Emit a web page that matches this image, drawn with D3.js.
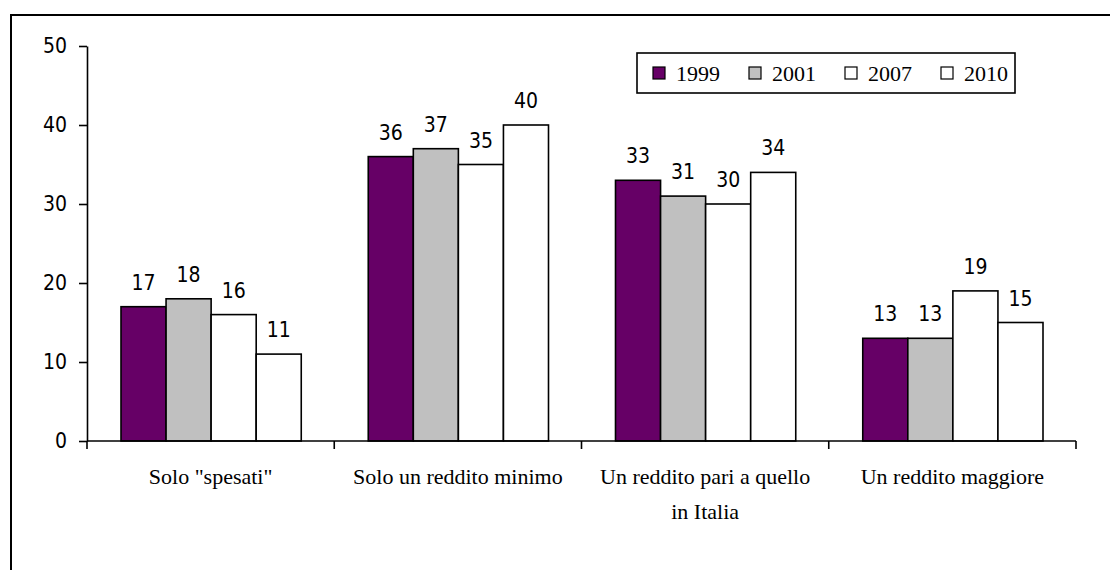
<!DOCTYPE html>
<html>
<head>
<meta charset="utf-8">
<script src="https://cdn.jsdelivr.net/npm/d3@7"></script>
<style>
  body { margin: 0; background: #fff; }
  svg { display: block; }
  .tick-lbl { font-family: Tahoma, "DejaVu Sans Condensed", "DejaVu Sans", sans-serif; font-size: 21px; }
  .cat-lbl { font-family: "Liberation Serif", "Times New Roman", serif; font-size: 22px; }
</style>
</head>
<body>
<svg width="1110" height="570"></svg>
<script>
const categories = ['Solo "spesati"', 'Solo un reddito minimo', 'Un reddito pari a quello|in Italia', 'Un reddito maggiore'];
const years = ['1999', '2001', '2007', '2010'];
const v1999 = [17, 36, 33, 13];
const v2001 = [18, 37, 31, 13];
const v2007 = [16, 35, 30, 19];
const v2010 = [11, 40, 34, 15];
const yTicks = [0, 10, 20, 30, 40, 50];
const colors = ['#660066', '#c0c0c0', '#ffffff', '#ffffff'];

const series = [v1999, v2001, v2007, v2010];
const svg = d3.select('svg');

// outer frame (right and bottom edges run off the picture)
svg.append('rect')
  .attr('x', 11).attr('y', 15)
  .attr('width', 1120).attr('height', 580)
  .attr('fill', 'none').attr('stroke', '#000').attr('stroke-width', 2);

const x0 = d3.scaleBand().domain(categories).range([87, 1076]).paddingInner(0).paddingOuter(0);
const x1 = d3.scaleBand().domain(years).range([34, x0.bandwidth() - 33]);
const y = d3.scaleLinear().domain([0, 50]).range([441, 46]);

// bars
const g = svg.append('g');
categories.forEach((c, ci) => {
  years.forEach((yr, si) => {
    const v = series[si][ci];
    g.append('rect')
      .attr('x', x0(c) + x1(yr))
      .attr('y', y(v))
      .attr('width', x1.bandwidth())
      .attr('height', y(0) - y(v))
      .attr('fill', colors[si])
      .attr('stroke', '#000').attr('stroke-width', 1.6);
    g.append('text')
      .attr('class', 'tick-lbl')
      .attr('x', x0(c) + x1(yr) + x1.bandwidth() / 2)
      .attr('y', y(v) - 17)
      .attr('text-anchor', 'middle')
      .text(v);
  });
});

// y axis
const yAxis = svg.append('g')
  .attr('transform', 'translate(87,0)')
  .call(d3.axisLeft(y).tickValues(yTicks).tickSize(8).tickPadding(12).tickSizeOuter(0));
yAxis.select('.domain').attr('stroke-width', 1.6);
yAxis.selectAll('.tick line').attr('stroke-width', 1.6);
yAxis.selectAll('.tick text').attr('class', 'tick-lbl').attr('font-size', null).attr('font-family', null);
yAxis.attr('font-size', null).attr('font-family', null);

// x axis with ticks between categories
const xg = svg.append('g');
xg.append('line')
  .attr('x1', 87).attr('x2', 1076)
  .attr('y1', y(0)).attr('y2', y(0))
  .attr('stroke', '#000').attr('stroke-width', 1.6);
const bounds = categories.map(c => x0(c)).concat([x0.range()[1]]);
xg.selectAll('line.sep').data(bounds).enter().append('line')
  .attr('class', 'sep')
  .attr('x1', d => d).attr('x2', d => d)
  .attr('y1', y(0)).attr('y2', y(0) + 8)
  .attr('stroke', '#000').attr('stroke-width', 1.6);

categories.forEach(c => {
  const lines = c.split('|');
  const t = xg.append('text')
    .attr('class', 'cat-lbl')
    .attr('text-anchor', 'middle')
    .attr('x', x0(c) + x0.bandwidth() / 2)
    .attr('y', 484);
  lines.forEach((l, i) => {
    t.append('tspan')
      .attr('x', x0(c) + x0.bandwidth() / 2)
      .attr('dy', i === 0 ? 0 : 35)
      .text(l);
  });
});

// legend
const leg = svg.append('g');
leg.append('rect')
  .attr('x', 637).attr('y', 53)
  .attr('width', 378).attr('height', 40)
  .attr('fill', '#fff').attr('stroke', '#000').attr('stroke-width', 1.6);
years.forEach((yr, i) => {
  const lx = 653 + i * 96;
  leg.append('rect')
    .attr('x', lx).attr('y', 67)
    .attr('width', 12).attr('height', 12)
    .attr('fill', colors[i]).attr('stroke', '#000').attr('stroke-width', 1.2);
  leg.append('text')
    .attr('class', 'cat-lbl')
    .attr('x', lx + 23).attr('y', 81)
    .text(yr);
});
</script>
</body>
</html>
